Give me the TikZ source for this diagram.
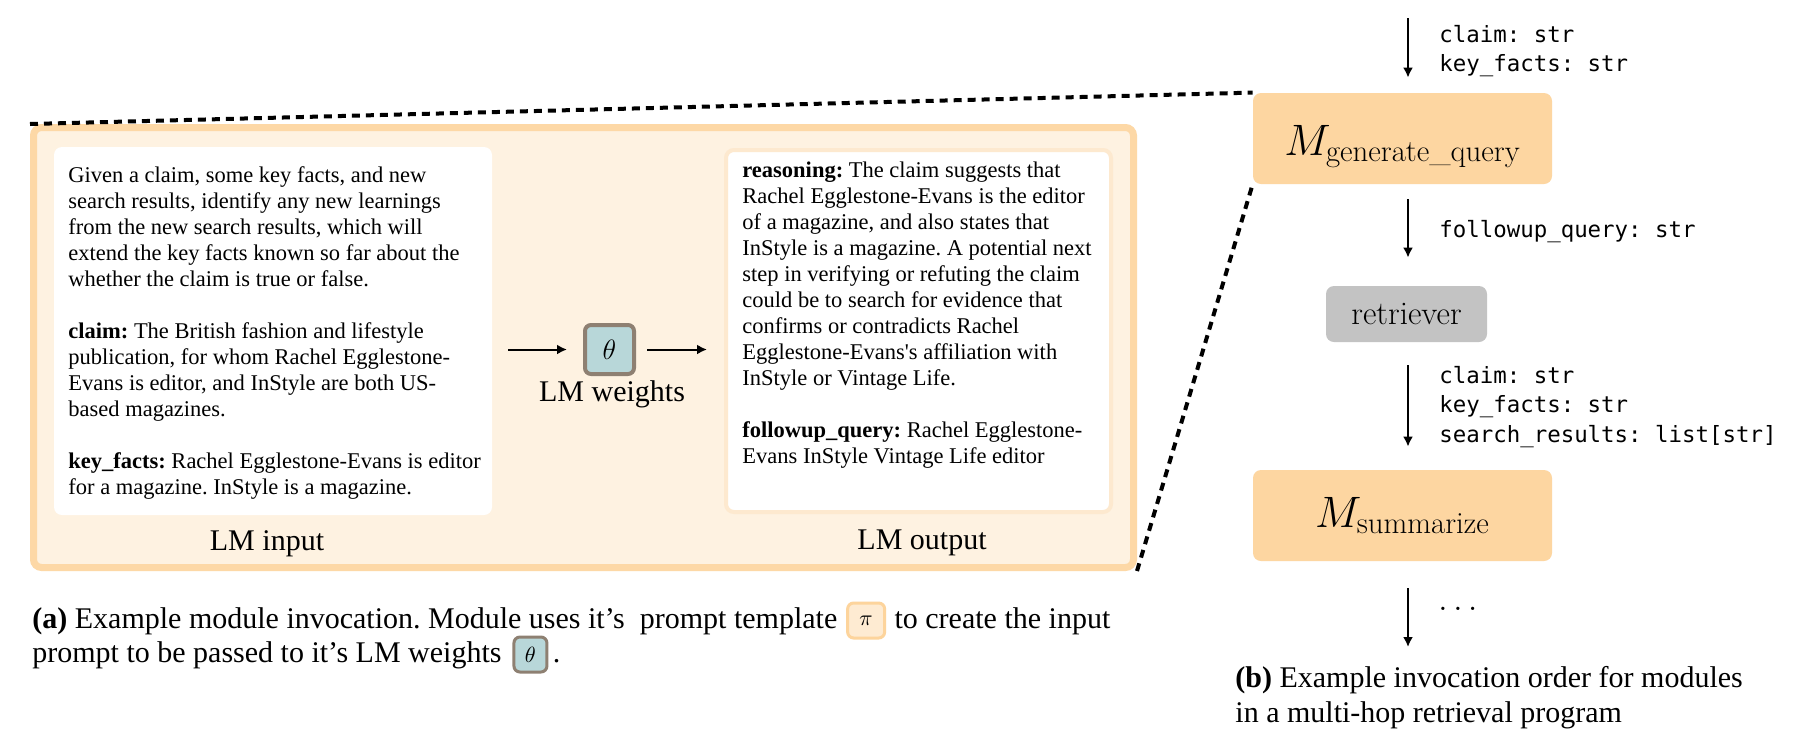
\documentclass[tikz,border=0pt]{standalone}
\usepackage{fix-cm}
\usepackage{amsmath}
\usepackage[no-math]{fontspec}
\setmainfont{Liberation Serif}
\setmonofont{DejaVu Sans Mono}
\usetikzlibrary{arrows.meta}
\definecolor{outerfill}{HTML}{FEF2E1}
\definecolor{outerdraw}{HTML}{FDD8A6}
\definecolor{mfill}{HTML}{FDD6A1}
\definecolor{retfill}{HTML}{C3C3C3}
\definecolor{thetafill}{HTML}{B8D7D9}
\definecolor{thetadraw}{HTML}{8E8072}
\definecolor{pifill}{HTML}{FEEBD2}
\definecolor{pidraw}{HTML}{FDD49C}
\definecolor{outbord}{HTML}{FDE9CF}
\newcommand{\lmrm}{\fontfamily{lmr}\selectfont}
\newcommand{\myblock}[1]{\parbox[t]{300pt}{\raggedright\frenchspacing #1}}
\frenchspacing
\begin{document}
\begin{tikzpicture}[x=0.5pt,y=-0.5pt,
  arr/.style={line width=1pt,-{Latex[length=5pt,width=5pt]}},
  body/.style={inner sep=0pt,anchor=base west,font=\fontsize{11.25}{13}\selectfont\frenchspacing},
  lbl/.style={inner sep=0pt,anchor=base,font=\fontsize{15}{18}\selectfont},
  captxt/.style={inner sep=0pt,anchor=base west,font=\fontsize{15}{17}\selectfont\frenchspacing},
  mono/.style={inner sep=0pt,anchor=base west,font=\fontsize{11.2}{14.75}\selectfont\ttfamily},
  mbox/.style={fill=mfill,rounded corners=4pt,inner sep=0pt,minimum width=149.5pt,minimum height=45.5pt,font=\fontsize{22}{26}\selectfont},
  dashedlink/.style={line width=2pt,dash pattern=on 4pt off 3pt},
  thetabox/.style={draw=thetadraw,fill=thetafill,rounded corners=3pt,inner sep=0pt},
  pibox/.style={draw=pidraw,fill=pifill,rounded corners=3pt,inner sep=0pt}
]
\useasboundingbox (0,0) rectangle (1800,745);
\fill[white] (0,0) rectangle (1800,745);

% ---- (a) module invocation ----
\node[draw=outerdraw,fill=outerfill,line width=3.5pt,rounded corners=4pt,
      minimum width=550pt,minimum height=220pt,inner sep=0pt] (outer) at (583.5,347.5) {};
\node[fill=white,rounded corners=4pt,minimum width=219pt,minimum height=184pt,inner sep=0pt] (input) at (273,331) {};
\node[fill=white,draw=outbord,line width=2pt,rounded corners=4pt,minimum width=192.5pt,minimum height=181pt,inner sep=0pt] (output) at (918.5,331) {};

\node[body] (intext) at (68,182) {\myblock{Given a claim, some key facts, and new\\
search results, identify any new learnings\\
from the new search results, which will\\
extend the key facts known so far about the\\
whether the claim is true or false.\\[13pt]
\textbf{claim:} The British fashion and lifestyle\\
publication, for whom Rachel Egglestone-\\
Evans is editor, and InStyle are both US-\\
based magazines.\\[13pt]
\textbf{key\_facts:} Rachel Egglestone-Evans is editor\\
for a magazine. InStyle is a magazine.}};

\node[body] (outtext) at (742,177) {\myblock{\textbf{reasoning:} The claim suggests that\\
Rachel Egglestone-Evans is the editor\\
of a magazine, and also states that\\
InStyle is a magazine. A potential next\\
step in verifying or refuting the claim\\
could be to search for evidence that\\
confirms or contradicts Rachel\\
Egglestone-Evans\textquotesingle s affiliation with\\
InStyle or Vintage Life.\\[13pt]
\textbf{followup\_query:} Rachel Egglestone-\\
Evans InStyle Vintage Life editor}};

\node[lbl] (lmin) at (267,550) {LM input};
\node[lbl] (lmout) at (922,549) {LM output};

\node[thetabox,line width=2pt,minimum width=24.5pt,minimum height=24.5pt] (theta) at (609.5,349.5) {\fontsize{14}{16}\selectfont$\theta$};
\node[lbl] (lmw) at (612,401) {LM weights};

\draw[arr,shorten <=8pt,shorten >=8pt] (input.east |- theta.west) -- (theta.west);
\draw[arr,shorten <=5.5pt,shorten >=8.5pt] (theta.east) -- (output.west |- theta.east);

% ---- caption (a) ----
\node[captxt] (a1) at (32,628) {\textbf{(a)} Example module invocation. Module uses it’s~~prompt template};
\path (a1.base east) ++(28.5,-7.5) node[pibox,line width=1.5pt,minimum width=18.5pt,minimum height=17.5pt] (pi) {\fontsize{11}{13}\selectfont$\pi$};
\path (pi.east |- a1.base) ++(8,0) node[captxt] (a2) {to create the input};
\node[captxt] (a3) at (32,662) {prompt to be passed to it’s LM weights};
\path (a3.base east) ++(28.5,-7.5) node[thetabox,line width=1.5pt,minimum width=16.5pt,minimum height=17.5pt] (th2) {\fontsize{11}{13}\selectfont$\theta$};
\path (th2.east |- a3.base) ++(4,0) node[captxt] (a4) {.};

% ---- (b) invocation order ----
\coordinate (top) at (1408,18);
\node[mbox,text height=16.5pt,text depth=0pt] (gen) at (1402.5,138.5) {$M_{\text{\lmrm generate\_query}}$};
\node[fill=retfill,rounded corners=4pt,inner sep=0pt,minimum width=80.5pt,minimum height=28pt,font=\fontsize{16.5}{19}\selectfont\lmrm] (ret) at (1406.5,314) {retriever};
\node[mbox] (sum) at (1402.5,515.5) {$M_{\text{\lmrm summarize}}$};
\coordinate (bot) at (1408,647);

\draw[arr,shorten >=7.5pt] (top) -- (gen.north -| top);
\draw[arr,shorten <=7.5pt,shorten >=14pt] (gen.south -| top) -- (ret.north -| top);
\draw[arr,shorten <=11.5pt,shorten >=11.5pt] (ret.south -| top) -- (sum.north -| top);
\draw[arr,shorten <=13.5pt] (sum.south -| top) -- (bot);

\node[mono] (l1) at (1439,42) {\myblock{claim: str\\key\_facts: str}};
\node[mono] (l2) at (1439,237) {followup\_query: str};
\node[mono] (l3) at (1439,383) {\myblock{claim: str\\key\_facts: str\\search\_results: list[str]}};
\node[inner sep=0pt,anchor=base,font=\fontsize{17}{19}\selectfont] (dots) at (1458,610) {$\ldots$};

\node[captxt] (b1) at (1235,687) {\parbox[t]{300pt}{\raggedright\fontsize{15}{17.5}\selectfont\textbf{(b)} Example invocation order for modules\\in a multi-hop retrieval program}};

% ---- zoom links ----
\draw[dashedlink] (outer.north west) -- (gen.north west);
\draw[dashedlink] (outer.south east) -- (gen.south west);
\end{tikzpicture}
\end{document}
